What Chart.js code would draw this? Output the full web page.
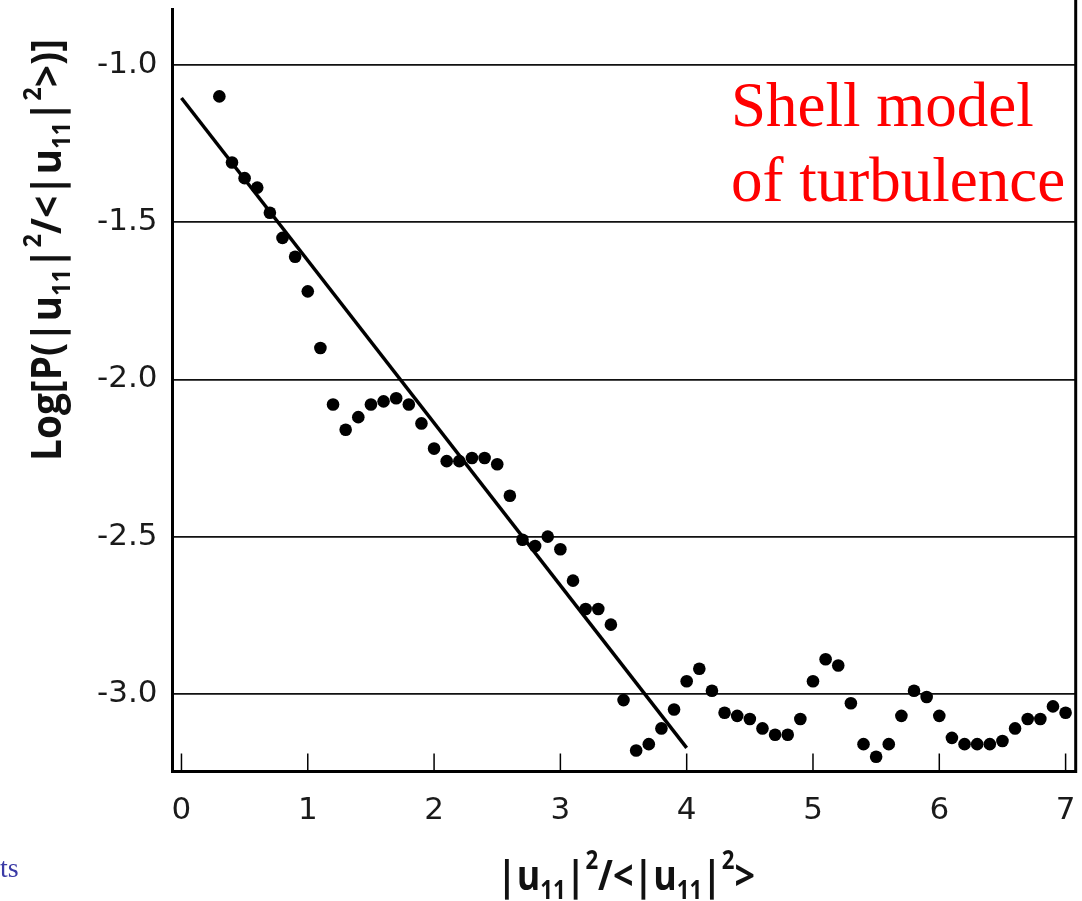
<!DOCTYPE html>
<html>
<head>
<meta charset="utf-8">
<script src="https://cdn.jsdelivr.net/npm/chart.js@4"></script>
<style>
  body { margin: 0; background: #fff; }
  canvas { display: block; }
</style>
</head>
<body>
<canvas id="pdf" width="1082" height="901" style="width:1082px;height:901px"></canvas>
<script>
// x = |u11|^2 / <|u11|^2>
const xs = [0.3, 0.4, 0.5, 0.6, 0.7, 0.8, 0.9, 1.0, 1.1, 1.2,
            1.3, 1.4, 1.5, 1.6, 1.7, 1.8, 1.9, 2.0, 2.1, 2.2,
            2.3, 2.4, 2.5, 2.6, 2.7, 2.8, 2.9, 3.0, 3.1, 3.2,
            3.3, 3.4, 3.5, 3.6, 3.7, 3.8, 3.9, 4.0, 4.1, 4.2,
            4.3, 4.4, 4.5, 4.6, 4.7, 4.8, 4.9, 5.0, 5.1, 5.2,
            5.3, 5.4, 5.5, 5.6, 5.7, 5.8, 5.9, 6.0, 6.1, 6.2,
            6.3, 6.4, 6.5, 6.6, 6.7, 6.8, 6.9, 7.0];
// log P values
const logP = [-1.10, -1.31, -1.36, -1.39, -1.47, -1.55, -1.61, -1.72, -1.90, -2.08,
              -2.16, -2.12, -2.08, -2.07, -2.06, -2.08, -2.14, -2.22, -2.26, -2.26,
              -2.25, -2.25, -2.27, -2.37, -2.51, -2.53, -2.50, -2.54, -2.64, -2.73,
              -2.73, -2.78, -3.02, -3.18, -3.16, -3.11, -3.05, -2.96, -2.92, -2.99,
              -3.06, -3.07, -3.08, -3.11, -3.13, -3.13, -3.08, -2.96, -2.89, -2.91,
              -3.03, -3.16, -3.20, -3.16, -3.07, -2.99, -3.01, -3.07, -3.14, -3.16,
              -3.16, -3.16, -3.15, -3.11, -3.08, -3.08, -3.04, -3.06];
// straight fit line
const fitX = [0, 4];
const fitY = [-1.105, -3.172];

const xTicks = [0, 1, 2, 3, 4, 5, 6, 7];
const yTicks = [-3.0, -2.5, -2.0, -1.5, -1.0];

const xTitle = [['|u'], ['11', 'sub'], ['|'], ['2', 'sup'], ['/<|u'], ['11', 'sub'], ['|'], ['2', 'sup'], ['>']];
const yTitle = [['Log[P(|u'], ['11', 'sub'], ['|'], ['2', 'sup'], ['/<|u'], ['11', 'sub'], ['|'], ['2', 'sup'], ['>)]']];

const points = xs.map((x, i) => ({ x: x, y: logP[i] }));
const fit = fitX.map((x, i) => ({ x: x, y: fitY[i] }));

// draws text with sub/superscripts, stretched to a given length
function drawRich(ctx, parts, size, family, targetW) {
  const fontFor = k => 'bold ' + (k ? Math.round(size * 0.62) : size) + 'px ' + family;
  let w = 0;
  parts.forEach(p => { ctx.font = fontFor(p[1]); w += ctx.measureText(p[0]).width; });
  const s = targetW / w;
  ctx.scale(s, 1);
  let x = -w / 2;
  parts.forEach(p => {
    ctx.font = fontFor(p[1]);
    let dy = 0;
    if (p[1] === 'sub') dy = size * 0.22;
    if (p[1] === 'sup') dy = -size * 0.5;
    ctx.fillText(p[0], x, dy);
    x += ctx.measureText(p[0]).width;
  });
}

const decor = {
  id: 'decor',
  beforeDraw(chart) {
    const ctx = chart.ctx;
    ctx.save();
    ctx.fillStyle = '#fff';
    ctx.fillRect(0, 0, chart.width, chart.height);
    ctx.restore();
  },
  afterDraw(chart) {
    const ctx = chart.ctx;
    const a = chart.chartArea;
    const xs_ = chart.scales.x;
    ctx.save();
    // right frame line
    ctx.strokeStyle = '#000';
    ctx.lineWidth = 3;
    ctx.beginPath();
    ctx.moveTo(a.right, 0);
    ctx.lineTo(a.right, a.bottom + 1.5);
    ctx.stroke();
    // tick marks pointing inward
    ctx.lineWidth = 1.5;
    xTicks.forEach(v => {
      const px = xs_.getPixelForValue(v);
      ctx.beginPath();
      ctx.moveTo(px, a.bottom - 18);
      ctx.lineTo(px, a.bottom);
      ctx.stroke();
    });
    // axis titles
    ctx.fillStyle = '#111';
    ctx.textBaseline = 'alphabetic';
    ctx.textAlign = 'left';
    ctx.save();
    ctx.translate(626, 890);
    drawRich(ctx, xTitle, 42, '"Open Sans", sans-serif', 258);
    ctx.restore();
    ctx.save();
    ctx.translate(61, 250);
    ctx.rotate(-Math.PI / 2);
    drawRich(ctx, yTitle, 41, '"Open Sans", sans-serif', 422);
    ctx.restore();
    // annotation
    ctx.fillStyle = '#ff0000';
    ctx.font = '63px "Liberation Serif", serif';
    ctx.fillText('Shell model', 731, 126);
    ctx.fillText('of turbulence', 731, 201);
    ctx.fillStyle = '#3a3aa6';
    ctx.font = '28px "Liberation Serif", serif';
    ctx.fillText('ts', 0, 877);
    ctx.restore();
  }
};

new Chart(document.getElementById('pdf'), {
  type: 'scatter',
  data: {
    datasets: [
      {
        data: points,
        pointRadius: 6.3,
        pointBackgroundColor: '#000',
        pointBorderWidth: 0,
        order: 1
      },
      {
        type: 'line',
        data: fit,
        borderColor: '#000',
        borderWidth: 3.5,
        pointRadius: 0,
        fill: false,
        order: 2
      }
    ]
  },
  options: {
    responsive: false,
    animation: false,
    devicePixelRatio: 1,
    layout: { padding: { left: 0, right: 6, top: 9, bottom: 0 } },
    plugins: { legend: { display: false }, tooltip: { enabled: false } },
    scales: {
      x: {
        type: 'linear',
        min: -0.071,
        max: 7.08,
        afterBuildTicks: s => { s.ticks = xTicks.map(v => ({ value: v })); },
        afterFit: s => {
          s.height = 129.5;
          s.paddingLeft = 0;
          s.paddingRight = 0;
        },
        ticks: {
          color: '#1a1a1a',
          font: { family: '"DejaVu Sans", sans-serif', size: 31 },
          padding: 21,
          maxRotation: 0,
          callback: v => String(v)
        },
        grid: { display: false, drawTicks: false },
        border: { display: true, width: 3, color: '#000' }
      },
      y: {
        type: 'linear',
        min: -3.247,
        max: -0.822,
        afterBuildTicks: s => { s.ticks = yTicks.map(v => ({ value: v })); },
        afterFit: s => {
          s.width = 172.5;
          s.paddingTop = 0;
          s.paddingBottom = 0;
        },
        ticks: {
          color: '#1a1a1a',
          font: { family: '"DejaVu Sans", sans-serif', size: 31 },
          padding: 15,
          callback: v => v.toFixed(1)
        },
        grid: { color: '#111', lineWidth: 1.8, drawTicks: false },
        border: { display: true, width: 3, color: '#000' }
      }
    }
  },
  plugins: [decor]
});
</script>
</body>
</html>
